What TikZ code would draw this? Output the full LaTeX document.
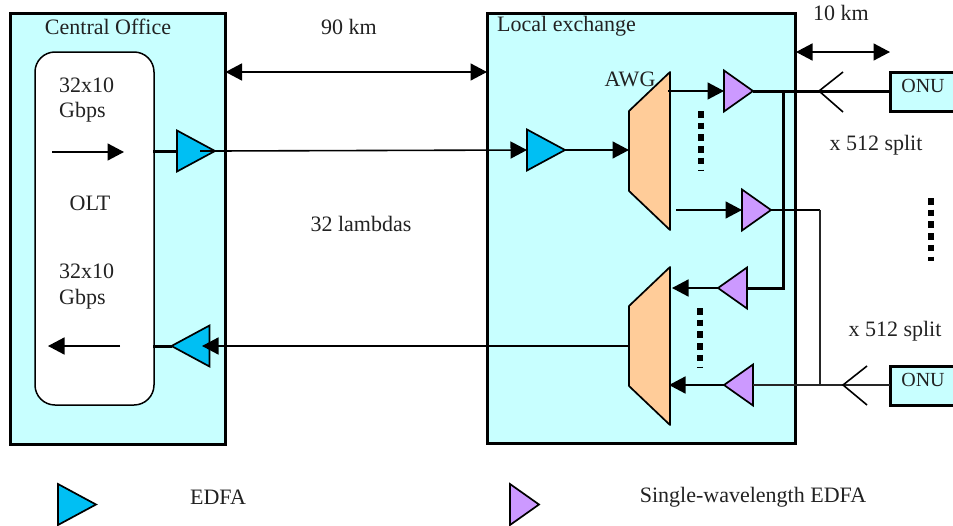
\documentclass[tikz,border=0pt]{standalone}
\usepackage{fontspec}
\setmainfont{Liberation Serif}
\usetikzlibrary{arrows.meta,shapes.geometric}
\definecolor{panel}{HTML}{C8FFFF}
\definecolor{edfa}{HTML}{00BFF3}
\definecolor{swedfa}{HTML}{CC99FF}
\definecolor{awg}{HTML}{FFCC99}
\definecolor{ink}{HTML}{222222}
\tikzset{
  x=1pt,y=-1pt,
  lbl/.style={text=ink,font=\fontsize{22}{26}\selectfont,inner sep=0pt,align=left},
  onutxt/.style={text=ink,font=\fontsize{20}{24}\selectfont,inner sep=0pt},
  panelbox/.style={draw=black,line width=3pt,fill=panel,inner sep=0pt,outer sep=0pt,anchor=north west},
  olt/.style={draw=black,line width=1.5pt,fill=white,rounded corners=20pt,inner sep=0pt,outer sep=0pt,anchor=north west},
  tri/.style={isosceles triangle,isosceles triangle stretches,shape border rotate=#1,draw=black,line width=1.7pt,inner sep=0pt,outer sep=0pt,minimum width=41pt,minimum height=38pt,anchor=lower side},
  tri/.default=0,
  blue/.style={fill=edfa},
  violet/.style={fill=swedfa,minimum height=29pt},
  thin/.style={line width=1.8pt,draw=black!85},
  fat/.style={line width=3pt},
  arr/.style={line width=1.6pt,-{Triangle[length=16.5pt,width=17pt]}},
  dbl/.style={line width=1.6pt,{Triangle[length=16.5pt,width=17pt]}-{Triangle[length=16.5pt,width=17pt]}},
  dots/.style={line width=6.5pt,dash pattern=on 6.5pt off 5.2pt},
  mux/.style={draw=black,line width=1.7pt,fill=awg,line join=round},
  fork/.style={line width=1.6pt,draw=black}
}
\begin{document}
\begin{tikzpicture}
\clip (0,0) rectangle (953,525);
\fill[white] (0,0) rectangle (953,525);
% panels
\node[panelbox,minimum width=215pt,minimum height=431pt] (co) at (10.5,13.5) {};
\node[panelbox,minimum width=308pt,minimum height=430pt] (le) at (487,13) {};
\node[olt,minimum width=119pt,minimum height=353pt] (oltbox) at (35,52) {};
\node[panelbox,minimum width=80pt,minimum height=39pt] (onuA) at (890,72) {};
\node[panelbox,minimum width=80pt,minimum height=39pt] (onuB) at (890,366.5) {};
% muxes
\draw[mux] (629,111) -- (670,72) -- (670,230) -- (629,191) -- cycle;
\draw[mux] (629,306) -- (670,267) -- (670,425) -- (629,386) -- cycle;
\coordinate (muxAin) at (629,150);
\coordinate (muxAoutA) at (668,91);
\coordinate (muxAoutB) at (676,210);
\coordinate (muxBin) at (672,288);
\coordinate (muxBinB) at (669,385);
\coordinate (muxBout) at (629,346);
\coordinate (forkA) at (819,91);
\coordinate (forkB) at (843,385);
\coordinate (busA) at (783,91);
\coordinate (busAb) at (783,288);
\coordinate (busB) at (820,210);
\coordinate (busBb) at (820,385);
\coordinate (oltR) at (153,151);
\coordinate (oltRb) at (153,346);
\coordinate (eAin) at (200,151);
\coordinate (eCin) at (202,346);
% amplifiers
\node[tri,blue] (eA) at (177,151) {};
\node[tri,blue] (eB) at (527,150) {};
\node[tri=180,blue] (eC) at (209.5,346) {};
\node[tri,violet] (sA) at (724,91) {};
\node[tri,violet] (sB) at (742,210) {};
\node[tri=180,violet] (sC) at (747,288) {};
\node[tri=180,violet] (sD) at (753,385) {};
% connectors
\draw[fat] (oltR) -- (eA.lower side);
\draw[fat] (oltRb) -- (eC.apex);
\draw[arr] (eAin) -- (eA.apex) -- (eB.lower side);
\draw[arr] (eB.apex) -- (muxAin);
\draw[arr] (muxBout) -- (eCin);
\draw[arr] (muxAoutA) -- (sA.lower side);
\draw[arr] (muxAoutB) -- (sB.lower side);
\draw[arr] (sC.apex) -- (muxBin);
\draw[arr] (sD.apex) -- (muxBinB);
\draw[fat] (sA.apex) -- (onuA.west |- sA.apex);
\draw[fat,line join=miter] (busA) -- (busAb) -- (sC.lower side);
\draw[line width=2.4pt] (sB.apex) -- (busB);
\draw[thin] (busB) -- (busBb);
\draw[thin] (sD.lower side) -- (onuB.west |- sD.lower side);
\draw[fork] (843,72) -- (forkA) -- (843,112);
\draw[fork] (867,366) -- (forkB) -- (867,405);
% OLT arrows
\coordinate (oa) at (52,152);
\coordinate (ob) at (124,152);
\coordinate (oc) at (120,346);
\coordinate (od) at (48,346);
\draw[arr] (oa) -- (ob);
\draw[arr] (oc) -- (od);
% distance arrows
\draw[dbl] (co.east |- 0,72) -- (le.west |- 0,72);
\coordinate (tenA) at (796,52);
\coordinate (tenB) at (890,52);
\draw[dbl] (tenA) -- (tenB);
% dotted ellipses
\draw[dots] (701,111) -- (701,171);
\draw[dots] (931,198) -- (931,261);
\draw[dots] (700,308) -- (700,367);
% labels
\node[lbl] (tCO) at (108,26.5) {Central Office};
\node[lbl] (t90) at (349,26.5) {90 km};
\node[lbl] (t10) at (841,12.5) {10 km};
\node[lbl,anchor=west] (tLE) at (497,26.5) {Local exchange};
\node[lbl] (tAWG) at (630,79.5) {AWG};
\node[lbl] (tS1) at (876,145.5) {x 512 split};
\node[lbl] (tS2) at (895,331.5) {x 512 split};
\node[lbl] (tLam) at (361,223.5) {32 lambdas};
\node[lbl,anchor=west] (t1a) at (59,85.5) {32x10};
\node[lbl,anchor=west] (t1b) at (59,112) {Gbps};
\node[lbl] (tOLT) at (90,203.5) {OLT};
\node[lbl,anchor=west] (t2a) at (59,271.5) {32x10};
\node[lbl,anchor=west] (t2b) at (59,299) {Gbps};
\node[onutxt] (tOa) at (923,85.5) {ONU};
\node[onutxt] (tOb) at (923,379.5) {ONU};
% legend
\node[tri,blue] (lgA) at (58,504.5) {};
\node[tri,violet] (lgB) at (510,504.5) {};
\node[lbl] (tE) at (218,497.5) {EDFA};
\node[lbl] (tSW) at (753,497.5) {Single-wavelength EDFA};
\end{tikzpicture}
\end{document}
